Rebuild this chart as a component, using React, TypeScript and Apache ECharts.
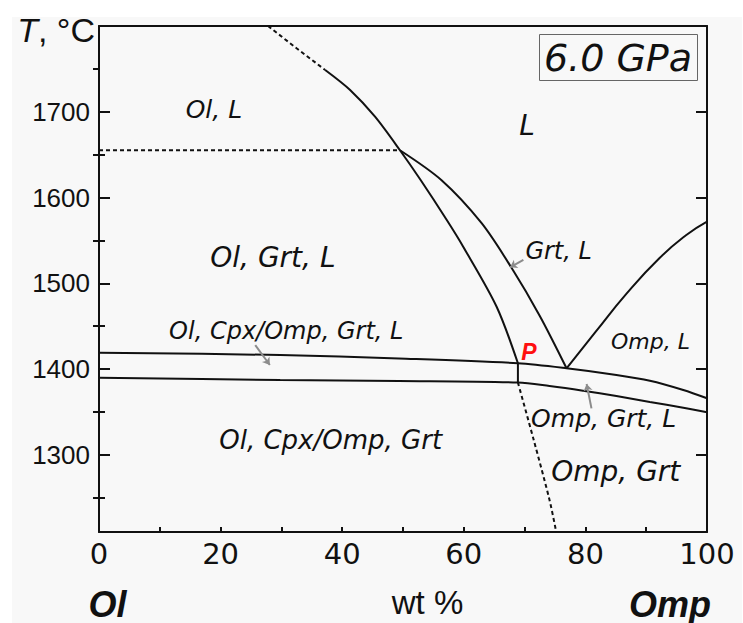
import React, { useEffect, useRef } from "react";
import * as echarts from "echarts";

// ---- axis ticks ----
const xLabelValues = [0, 20, 40, 60, 80, 100];
const xTickValues = [0, 10, 20, 30, 40, 50, 60, 70, 80, 90, 100];
const yLabelValues = [1300, 1400, 1500, 1600, 1700];
const yMinorLeft = [1250, 1350, 1450, 1550, 1650];
const yMinorRight = [1250, 1350, 1450, 1550, 1650, 1750];

// ---- phase boundaries: [wt % Omp, T °C] ----
const olLiquidusDashed = [[27.8, 1800], [32.5, 1774], [37.2, 1748.7]];
const olLiquidus = [[37.2, 1748.7], [41.3, 1725.4], [45.4, 1694.2], [49.5, 1655.1], [52.9, 1620.4], [57.2, 1573.8], [59.9, 1542.7], [65.4, 1472.7], [68.9, 1406.7]];
const grtLiquidus = [[49.5, 1655.1], [56.3, 1620.4], [62.9, 1570.3], [67.8, 1518.6], [72.5, 1461.9], [76.9, 1400.9]];
const ompLiquidus = [[76.9, 1400.9], [81.7, 1443.6], [86.8, 1488.3], [92.2, 1529.5], [96.6, 1556.3], [100, 1572.0]];
const upperSolidus = [[0, 1419.1], [29.8, 1416.4], [49.3, 1412.3], [68.9, 1406.7], [76.9, 1400.9], [85.1, 1393.1], [90.6, 1386.4], [96.1, 1375.6], [100, 1365.9]];
const lowerSolidus = [[0, 1389.9], [29.8, 1387.2], [49.3, 1386.1], [68.9, 1384.3], [74.1, 1380.2], [79.6, 1374.8], [85.1, 1368.6], [90.6, 1361.6], [96.1, 1354.9], [100, 1349.6]];
const peritecticStep = [[68.9, 1406.7], [68.9, 1384.3]];
const subsolidusDashed = [[68.9, 1384.3], [71.5, 1317.3], [74.1, 1247.3], [75.2, 1210]];
const olGrtDashed = [[0, 1655.1], [49.5, 1655.1]];

// ---- field labels ----
const fieldNames = ["Ol, L", "L", "Ol, Grt, L", "Grt, L", "Ol, Cpx/Omp, Grt, L", "Omp, L", "Omp, Grt, L", "Ol, Cpx/Omp, Grt", "Omp, Grt", "P"];
const fieldX = [18.9, 70.4, 28.6, 75.6, 30.8, 90.7, 83.0, 38.1, 85.0, 70.7];
const fieldT = [1703.2, 1683.4, 1529.5, 1537.6, 1444.4, 1432.7, 1342.9, 1317.3, 1281.1, 1419.9];

// ---- pointer arrows: [from, to] ----
const arrowFrom = [[25.7, 1428.0], [69.8, 1527.2], [81.0, 1354.2]];
const arrowTo = [[28.1, 1404.7], [67.6, 1518.6], [80.2, 1382.6]];

// styles (kept apart from data)
const fieldFontSize = [25, 28, 28, 24, 24, 22, 25, 26, 28, 23];

const INK = "#111";

function boundary(name: string, data: number[][], dashed: boolean, smooth: number | boolean) {
  return {
    type: "line",
    name,
    data,
    xAxisIndex: 0,
    yAxisIndex: 0,
    symbol: "none",
    showSymbol: false,
    smooth,
    silent: true,
    z: 3,
    lineStyle: { color: INK, width: 2, type: dashed ? [4, 3] : "solid" },
  };
}

export default function App() {
  const ref = useRef<HTMLDivElement>(null);

  useEffect(() => {
    if (!ref.current) return;
    const chart = echarts.init(ref.current, undefined, { renderer: "svg" });

    const fieldData = fieldNames.map((n, i) => {
      const isP = n === "P";
      return {
        name: n,
        value: [fieldX[i], fieldT[i]],
        label: isP
          ? { fontSize: fieldFontSize[i], fontWeight: "bold", fontStyle: "italic", fontFamily: "'Liberation Sans', Arial, sans-serif", color: "#ff1010" }
          : { fontSize: fieldFontSize[i] },
      };
    });

    const option: any = {
      animation: false,
      backgroundColor: "#ffffff",
      grid: { left: 99, top: 26, width: 608, height: 506, containLabel: false, outerBoundsMode: "none" },
      xAxis: [
        {
          type: "value",
          position: "bottom",
          min: 0,
          max: 100,
          axisLine: { show: true, onZero: false, lineStyle: { color: INK, width: 2 } },
          axisTick: { show: true, inside: true, length: 5, customValues: xTickValues, lineStyle: { color: INK, width: 2 } },
          axisLabel: { show: true, customValues: xLabelValues, margin: 7, fontSize: 29, fontFamily: "'DejaVu Sans', sans-serif", color: INK, formatter: (v: number) => String(v) },
          splitLine: { show: false },
        },
        {
          type: "value",
          position: "top",
          min: 0,
          max: 100,
          axisLine: { show: true, onZero: false, lineStyle: { color: INK, width: 2 } },
          axisTick: { show: false },
          axisLabel: { show: false },
          splitLine: { show: false },
        },
      ],
      yAxis: [
        {
          type: "value",
          position: "left",
          min: 1210,
          max: 1800,
          axisLine: { show: true, onZero: false, lineStyle: { color: INK, width: 2 } },
          axisTick: { show: true, inside: true, length: 11, customValues: yLabelValues, lineStyle: { color: INK, width: 2 } },
          axisLabel: { show: true, customValues: yLabelValues, margin: 9, fontSize: 26, fontFamily: "'Liberation Sans', Arial, sans-serif", color: INK, formatter: (v: number) => String(v) },
          splitLine: { show: false },
        },
        {
          type: "value",
          position: "left",
          min: 1210,
          max: 1800,
          axisLine: { show: false },
          axisTick: { show: true, inside: true, length: 6, customValues: yMinorLeft, lineStyle: { color: INK, width: 2 } },
          axisLabel: { show: false },
          splitLine: { show: false },
        },
        {
          type: "value",
          position: "right",
          min: 1210,
          max: 1800,
          axisLine: { show: true, onZero: false, lineStyle: { color: INK, width: 2 } },
          axisTick: { show: true, inside: true, length: 11, customValues: yLabelValues, lineStyle: { color: INK, width: 2 } },
          axisLabel: { show: false },
          splitLine: { show: false },
        },
        {
          type: "value",
          position: "right",
          min: 1210,
          max: 1800,
          axisLine: { show: false },
          axisTick: { show: true, inside: true, length: 6, customValues: yMinorRight, lineStyle: { color: INK, width: 2 } },
          axisLabel: { show: false },
          splitLine: { show: false },
        },
      ],
      series: [
        boundary("Ol liquidus (extrapolated)", olLiquidusDashed, true, false),
        boundary("Ol liquidus", olLiquidus, false, 0.3),
        boundary("Grt liquidus", grtLiquidus, false, 0.3),
        boundary("Omp liquidus", ompLiquidus, false, 0.5),
        boundary("Upper solidus", upperSolidus, false, 0.3),
        boundary("Lower solidus", lowerSolidus, false, 0.3),
        boundary("P step", peritecticStep, false, false),
        boundary("Subsolidus boundary", subsolidusDashed, true, 0.3),
        boundary("Ol-Grt reaction", olGrtDashed, true, false),
        {
          type: "lines",
          coordinateSystem: "cartesian2d",
          xAxisIndex: 0,
          yAxisIndex: 0,
          symbol: ["none", "arrow"],
          symbolSize: 7,
          silent: true,
          z: 4,
          lineStyle: { color: "#8c8c8c", width: 2, opacity: 1 },
          data: arrowFrom.map((f, i) => ({ coords: [f, arrowTo[i]] })),
        },
        {
          type: "scatter",
          xAxisIndex: 0,
          yAxisIndex: 0,
          symbol: "circle",
          symbolSize: 1,
          itemStyle: { color: "rgba(0,0,0,0)", opacity: 1 },
          silent: true,
          z: 5,
          label: {
            show: true,
            position: "inside",
            formatter: (p: any) => p.name,
            fontFamily: "'DejaVu Sans', sans-serif",
            fontStyle: "italic",
            color: INK,
            opacity: 1,
            textBorderWidth: 0,
          },
          labelLayout: { hideOverlap: false },
          data: fieldData,
        },
      ],
      graphic: [
        { type: "rect", z: -10, silent: true, shape: { x: 12, y: 17, width: 730, height: 606 }, style: { fill: "#f8f8f8" } },
        { type: "rect", z: 10, silent: true, shape: { x: 539.5, y: 34.5, width: 158, height: 46 }, style: { fill: "none", stroke: "#666", lineWidth: 1 } },
        {
          type: "text", z: 10, silent: true,
          style: { text: "6.0 GPa", x: 618, y: 57.5, align: "center", verticalAlign: "middle", textAlign: "center", textVerticalAlign: "middle", fontSize: 38, fontStyle: "italic", fontFamily: "'DejaVu Sans', sans-serif", fill: INK },
        },
        {
          type: "text", z: 10, silent: true,
          style: {
            text: "{i|T}, °C", x: 95, y: 30, align: "right", verticalAlign: "middle", textAlign: "right", textVerticalAlign: "middle",
            fontSize: 34, fontFamily: "'Liberation Sans', Arial, sans-serif", fill: INK,
            rich: { i: { fontStyle: "italic", fontSize: 34, fontFamily: "'Liberation Sans', Arial, sans-serif", fill: INK } },
          },
        },
        {
          type: "text", z: 10, silent: true,
          style: { text: "wt %", x: 427.5, y: 602, align: "center", verticalAlign: "middle", textAlign: "center", textVerticalAlign: "middle", fontSize: 33, fontFamily: "'Liberation Sans', Arial, sans-serif", fill: INK },
        },
        {
          type: "text", z: 10, silent: true,
          style: { text: "Ol", x: 107.5, y: 604, align: "center", verticalAlign: "middle", textAlign: "center", textVerticalAlign: "middle", fontSize: 36, fontStyle: "italic", fontWeight: "bold", fontFamily: "'Liberation Sans', Arial, sans-serif", fill: INK },
        },
        {
          type: "text", z: 10, silent: true,
          style: { text: "Omp", x: 670, y: 604, align: "center", verticalAlign: "middle", textAlign: "center", textVerticalAlign: "middle", fontSize: 36, fontStyle: "italic", fontWeight: "bold", fontFamily: "'Liberation Sans', Arial, sans-serif", fill: INK },
        },
      ],
    };

    chart.setOption(option);
    return () => chart.dispose();
  }, []);

  return (
    <div
      ref={ref}
      style={{ position: "fixed", left: 0, top: 0, width: 743, height: 623 }}
    />
  );
}
